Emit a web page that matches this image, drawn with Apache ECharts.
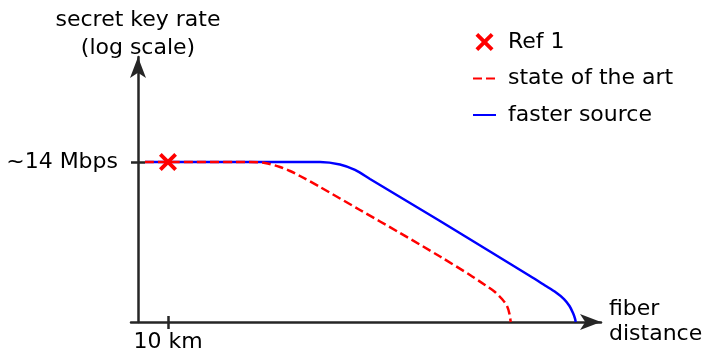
<!DOCTYPE html>
<html>
<head>
<meta charset="utf-8">
<script src="https://cdn.jsdelivr.net/npm/echarts@6/dist/echarts.min.js"></script>
<style>html,body{margin:0;padding:0;background:#fff;}#c{width:706px;height:354px;}</style>
</head>
<body>
<div id="c"></div>
<script>
// fiber distance (km) and secret key rate (Mbps, log scale)
const refName = 'Ref 1';
const refPoint = [[10, 14]];
const sotaName = 'state of the art';
const sotaKm = [2.33, 37.33, 42.33, 47.33, 50.67, 54, 60.67, 74, 87.33, 100.67, 110.67, 115.67, 119, 121.33, 123, 123.83, 124.23];
const sotaRate = [14, 14, 13.19, 10.39, 8.18, 6.07, 3.15, 0.798, 0.2025, 0.0498, 0.0165, 0.0091, 0.00599, 0.00394, 0.0026, 0.00161, 0.001];
const fastName = 'faster source';
const fastKm = [2.33, 60.67, 67.33, 72.33, 77.33, 80.67, 87.33, 100.67, 117.33, 130.67, 135.67, 139.33, 142, 143.83, 145, 145.67, 145.9];
const fastRate = [14, 14, 12.06, 8.69, 5.08, 3.55, 1.734, 0.414, 0.0671, 0.01556, 0.00883, 0.00581, 0.00394, 0.0026, 0.00171, 0.00123, 0.001];
const xTickValues = [10];
const xTickLabels = ['10 km'];
const yTickValues = [14];
const yTickLabels = ['~14 Mbps'];
const xName = 'fiber\ndistance';
const yName = 'secret key rate\n(log scale)';
const xMin = -2.33, xMax = 154.33;
const yMin = 0.001, yMax = 7360;

const FONT = 'DejaVu Sans';
const FS = 22;
const AX = '#262626';
const xPath = 'path://M15,0 L50,35 L85,0 L100,15 L65,50 L100,85 L85,100 L50,65 L15,100 L0,85 L35,50 L0,15 Z';

const zip = (a, b) => a.map((v, i) => [v, b[i]]);
const chart = echarts.init(document.getElementById('c'), null, {renderer: 'canvas'});
chart.setOption({
  animation: false,
  backgroundColor: '#fff',
  textStyle: {fontFamily: FONT},
  grid: [
    {left: 131, right: 105, top: 57, bottom: 32},
    {left: 138, right: 105, top: 57, bottom: 32}
  ],
  legend: {
    data: [
      {name: refName},
      {name: sotaName, itemStyle: {opacity: 0}},
      {name: fastName, itemStyle: {opacity: 0}}
    ],
    orient: 'vertical',
    left: 472, top: 31, padding: 0,
    itemWidth: 23, itemHeight: 18, itemGap: 14.5,
    textStyle: {fontFamily: FONT, fontSize: FS, color: '#000', padding: [0, 0, 0, 7]}
  },
  xAxis: [{
    type: 'value', gridIndex: 0, min: xMin, max: xMax,
    name: xName, nameLocation: 'end', nameGap: 8,
    nameTextStyle: {fontFamily: FONT, fontSize: FS, color: '#000', lineHeight: 25, align: 'left', padding: [3, 0, 0, 0]},
    axisLine: {onZero: false, symbol: ['none', 'arrow'], symbolSize: [12, 21], lineStyle: {color: AX, width: 2.5}},
    axisTick: {show: true, customValues: xTickValues, length: 7, lineStyle: {color: AX, width: 2.5}},
    axisLabel: {show: true, customValues: xTickValues, formatter: v => xTickLabels[xTickValues.indexOf(v)] || '', fontFamily: FONT, fontSize: FS, color: '#000', margin: 9},
    splitLine: {show: false}
  }, {
    type: 'value', gridIndex: 1, min: 0, max: xMax,
    axisLine: {show: false, onZero: false},
    axisTick: {show: true, inside: true, customValues: xTickValues, length: 6, lineStyle: {color: AX, width: 2.5}},
    axisLabel: {show: false},
    splitLine: {show: false}
  }],
  yAxis: [{
    type: 'log', logBase: 10, gridIndex: 0, min: yMin, max: yMax,
    name: yName, nameLocation: 'end', nameGap: -5,
    nameTextStyle: {fontFamily: FONT, fontSize: FS, color: '#000', lineHeight: 28, align: 'center', verticalAlign: 'bottom'},
    axisLine: {onZero: true, symbol: ['none', 'arrow'], symbolSize: [12, 21], lineStyle: {color: AX, width: 2.5}},
    axisTick: {show: true, customValues: yTickValues, length: 7, lineStyle: {color: AX, width: 2.5}},
    axisLabel: {show: true, customValues: yTickValues, formatter: v => yTickLabels[0], fontFamily: FONT, fontSize: FS, color: '#000', margin: 13},
    splitLine: {show: false}
  }, {
    type: 'log', logBase: 10, gridIndex: 1, min: yMin, max: yMax,
    axisLine: {show: false, onZero: false},
    axisTick: {show: true, inside: true, customValues: yTickValues, length: 7, lineStyle: {color: AX, width: 2.5}},
    axisLabel: {show: false},
    splitLine: {show: false}
  }],
  series: [
    {
      name: fastName, type: 'line', xAxisIndex: 0, yAxisIndex: 0,
      data: zip(fastKm, fastRate), symbol: 'none', smooth: 0.3,
      lineStyle: {color: '#0000ff', width: 2.5}, itemStyle: {color: '#0000ff'}, z: 2
    },
    {
      name: sotaName, type: 'line', xAxisIndex: 0, yAxisIndex: 0,
      data: zip(sotaKm, sotaRate), symbol: 'none', smooth: 0.3,
      lineStyle: {color: '#ff0000', width: 2.5, type: [9, 4]}, itemStyle: {color: '#ff0000'}, z: 3
    },
    {
      name: refName, type: 'scatter', xAxisIndex: 0, yAxisIndex: 0,
      data: refPoint, symbol: xPath, symbolSize: 18, symbolKeepAspect: true,
      itemStyle: {color: '#ff0000', opacity: 1}, z: 4
    }
  ]
});
</script>
</body>
</html>
